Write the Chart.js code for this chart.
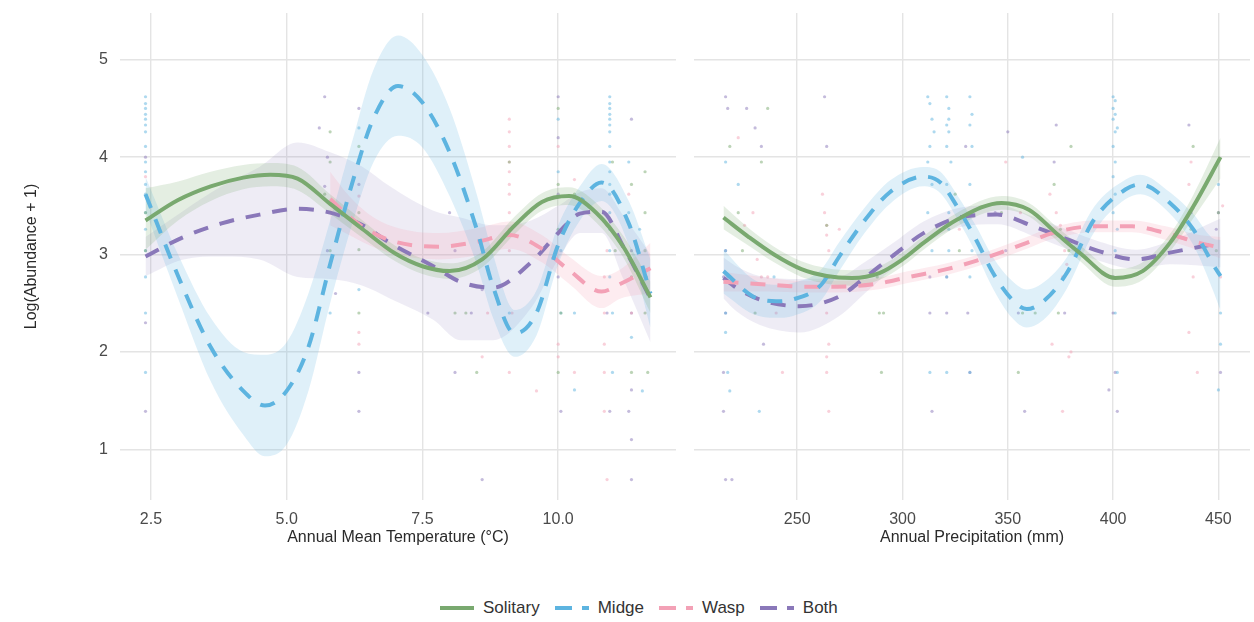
<!DOCTYPE html>
<html>
<head>
<meta charset="utf-8">
<script src="https://cdn.jsdelivr.net/npm/chart.js@4.4.0/dist/chart.umd.min.js"></script>
<style>
  body { margin: 0; background: #fff; width: 1254px; height: 622px; position: relative; overflow: hidden;
         font-family: "Liberation Sans", Arial, sans-serif; }
  #tempChart { position: absolute; left: 0; top: 0; }
  #precChart { position: absolute; left: 680px; top: 0; }
  #legend { position: absolute; left: 440px; top: 598px; display: flex; align-items: center;
            font-size: 17px; color: #333; line-height: 20px; }
  .item { display: flex; align-items: center; margin-right: 15px; }
  .item svg { margin-right: 9px; }
</style>
</head>
<body>
<canvas id="tempChart" width="680" height="560"></canvas>
<canvas id="precChart" width="574" height="560"></canvas>
<div id="legend"></div>
<script>
// ---- axes ----
const yTicks = [1, 2, 3, 4, 5];
const tempTicks = [2.5, 5.0, 7.5, 10.0];
const precTicks = [250, 300, 350, 400, 450];
const seriesNames = ['Solitary', 'Midge', 'Wasp', 'Both'];
const seriesColors = ['#79a96f', '#5db4e0', '#f3a1b6', '#8a78b9'];

// ---- temperature panel: smooth fits and confidence bands ----
const tempSolitaryX   = [2.4, 3.0, 3.6, 4.2, 4.7, 5.2, 5.8, 6.4, 7.0, 7.5, 8.0, 8.6, 9.2, 9.7, 10.2, 10.7, 11.2, 11.7];
const tempSolitaryFit = [3.35, 3.56, 3.70, 3.79, 3.82, 3.78, 3.52, 3.26, 3.01, 2.88, 2.83, 2.95, 3.30, 3.54, 3.60, 3.43, 3.08, 2.56];
const tempSolitaryLo  = [3.05, 3.35, 3.55, 3.67, 3.70, 3.66, 3.42, 3.17, 2.93, 2.80, 2.75, 2.87, 3.21, 3.45, 3.51, 3.33, 2.97, 2.40];
const tempSolitaryHi  = [3.68, 3.75, 3.85, 3.92, 3.94, 3.90, 3.62, 3.35, 3.09, 2.96, 2.91, 3.03, 3.39, 3.63, 3.69, 3.53, 3.19, 2.72];

const tempMidgeX   = [2.4, 3.0, 3.6, 4.2, 4.6, 5.0, 5.4, 5.8, 6.2, 6.6, 7.05, 7.5, 8.0, 8.5, 8.8, 9.2, 9.6, 10.0, 10.4, 10.8, 11.3, 11.7];
const tempMidgeFit = [3.62, 2.78, 2.05, 1.60, 1.45, 1.60, 2.05, 2.90, 3.72, 4.40, 4.73, 4.56, 4.05, 3.26, 2.67, 2.19, 2.40, 3.10, 3.53, 3.74, 3.32, 2.60];
const tempMidgeLo  = [3.45, 2.55, 1.70, 1.15, 0.93, 1.05, 1.60, 2.50, 3.30, 3.95, 4.22, 4.10, 3.60, 2.90, 2.35, 1.95, 2.17, 2.90, 3.35, 3.55, 3.10, 2.25];
const tempMidgeHi  = [3.80, 3.00, 2.35, 2.00, 1.97, 2.10, 2.60, 3.35, 4.15, 4.90, 5.25, 5.05, 4.50, 3.62, 3.00, 2.43, 2.63, 3.30, 3.70, 3.93, 3.55, 2.95];

const tempWaspX   = [5.8, 6.15, 6.5, 7.0, 7.8, 8.5, 9.1, 9.7, 10.2, 10.8, 11.15, 11.7];
const tempWaspFit = [3.57, 3.39, 3.25, 3.13, 3.08, 3.13, 3.20, 3.06, 2.84, 2.62, 2.70, 2.86];
const tempWaspLo  = [3.30, 3.20, 3.10, 3.00, 2.95, 2.99, 3.06, 2.92, 2.70, 2.45, 2.55, 2.60];
const tempWaspHi  = [3.85, 3.60, 3.42, 3.28, 3.22, 3.27, 3.34, 3.20, 2.98, 2.78, 2.85, 3.12];

const tempBothX   = [2.4, 3.1, 3.8, 4.5, 5.2, 5.8, 6.4, 6.9, 7.7, 8.2, 8.8, 9.5, 10.0, 10.4, 10.8, 11.2, 11.7];
const tempBothFit = [2.98, 3.18, 3.32, 3.41, 3.47, 3.43, 3.30, 3.12, 2.88, 2.72, 2.66, 2.92, 3.22, 3.42, 3.44, 3.08, 2.55];
const tempBothLo  = [2.78, 2.95, 2.98, 2.95, 2.77, 2.75, 2.68, 2.55, 2.33, 2.12, 2.12, 2.45, 2.95, 3.22, 3.22, 2.75, 2.10];
const tempBothHi  = [3.18, 3.45, 3.70, 3.90, 4.15, 4.05, 3.90, 3.70, 3.45, 3.38, 3.30, 3.35, 3.50, 3.64, 3.68, 3.40, 3.00];

// ---- precipitation panel: smooth fits and confidence bands ----
const precSolitaryX   = [215, 227, 239, 252, 264, 276, 289, 300, 310, 326, 347, 360, 374, 384, 401, 414, 427, 438, 451];
const precSolitaryFit = [3.38, 3.18, 3.00, 2.85, 2.78, 2.76, 2.81, 2.95, 3.12, 3.36, 3.53, 3.46, 3.20, 3.02, 2.76, 2.83, 3.12, 3.49, 4.00];
const precSolitaryLo  = [3.26, 3.09, 2.92, 2.77, 2.70, 2.68, 2.74, 2.88, 3.05, 3.29, 3.46, 3.39, 3.13, 2.94, 2.67, 2.74, 3.03, 3.37, 3.78];
const precSolitaryHi  = [3.50, 3.27, 3.08, 2.93, 2.86, 2.84, 2.88, 3.02, 3.19, 3.43, 3.60, 3.53, 3.27, 3.10, 2.85, 2.92, 3.21, 3.61, 4.20];

const precMidgeX   = [215, 229, 240, 248, 261, 270, 282, 294, 310, 318, 326, 335, 343, 352, 359, 368, 378, 391, 406, 413, 427, 438, 448, 451];
const precMidgeFit = [2.83, 2.57, 2.52, 2.54, 2.68, 2.98, 3.35, 3.64, 3.80, 3.74, 3.49, 3.15, 2.81, 2.54, 2.44, 2.54, 2.81, 3.36, 3.67, 3.72, 3.53, 3.26, 2.88, 2.78];
const precMidgeLo  = [2.60, 2.39, 2.35, 2.37, 2.52, 2.83, 3.22, 3.52, 3.70, 3.63, 3.37, 3.01, 2.65, 2.35, 2.25, 2.35, 2.65, 3.23, 3.57, 3.62, 3.42, 3.10, 2.60, 2.42];
const precMidgeHi  = [3.05, 2.75, 2.69, 2.71, 2.84, 3.13, 3.48, 3.76, 3.90, 3.85, 3.61, 3.29, 2.97, 2.73, 2.64, 2.73, 2.97, 3.49, 3.77, 3.82, 3.64, 3.42, 3.16, 3.15];

const precWaspX   = [215, 237, 253, 269, 288, 303, 321, 340, 359, 371, 391, 409, 425, 441, 451];
const precWaspFit = [2.72, 2.69, 2.67, 2.67, 2.70, 2.77, 2.85, 2.97, 3.12, 3.22, 3.29, 3.29, 3.22, 3.12, 3.07];
const precWaspLo  = [2.62, 2.62, 2.61, 2.61, 2.64, 2.71, 2.79, 2.91, 3.06, 3.16, 3.23, 3.23, 3.15, 3.04, 2.96];
const precWaspHi  = [2.82, 2.76, 2.73, 2.73, 2.76, 2.83, 2.91, 3.03, 3.18, 3.28, 3.35, 3.35, 3.29, 3.20, 3.18];

const precBothX   = [215, 221, 232, 251, 270, 282, 295, 310, 327, 345, 362, 379, 394, 411, 427, 451];
const precBothFit = [2.76, 2.66, 2.54, 2.47, 2.57, 2.76, 2.98, 3.22, 3.38, 3.41, 3.29, 3.15, 3.03, 2.95, 3.02, 3.12];
const precBothLo  = [2.55, 2.42, 2.28, 2.20, 2.37, 2.60, 2.85, 3.10, 3.28, 3.31, 3.19, 3.05, 2.93, 2.85, 2.90, 2.87];
const precBothHi  = [2.97, 2.88, 2.78, 2.75, 2.77, 2.92, 3.11, 3.34, 3.48, 3.51, 3.39, 3.25, 3.13, 3.05, 3.14, 3.37];

// ---- raw observations (jittered points) ----
const tempSolitaryPts = [[2.4,3.43],[2.4,3.04],[5.8,4.26],[5.8,3.95],[5.7,3.62],[5.8,3.04],[6.33,4.11],[6.33,3.43],[6.33,2.4],[6.33,3.05],
  [8.1,2.4],[8.3,2.4],[8.5,1.79],[10.0,4.5],[10.0,3.72],[10.0,3.26],[10.05,2.4],[10.0,1.79],[11.0,3.95],[11.05,3.04],[11.35,3.72],
  [11.35,2.77],[11.35,1.79],[11.6,3.85],[11.6,3.43],[11.6,3.04],[11.62,2.77],[11.6,2.4],[11.65,1.79],[10.3,3.62],[9.1,3.95],[5.9,3.5]];
const tempMidgePts = [[2.4,4.62],[2.4,4.55],[2.4,4.5],[2.4,4.44],[2.4,4.39],[2.4,4.33],[2.4,4.26],[2.4,4.11],[2.4,3.95],[2.4,3.85],
  [2.4,3.72],[2.4,3.62],[2.4,3.43],[2.4,3.26],[2.4,3.04],[2.4,2.77],[2.4,2.4],[2.4,1.79],[5.8,2.4],[6.33,2.64],[6.33,4.3],[10.0,4.39],
  [10.0,3.85],[10.05,3.04],[10.05,2.4],[10.3,2.4],[10.3,1.61],[10.95,4.62],[10.95,4.55],[10.95,4.5],[10.95,4.44],[10.95,4.39],[10.95,4.33],
  [10.95,4.26],[10.95,4.11],[10.95,3.95],[10.95,3.85],[10.95,3.72],[10.95,3.62],[10.95,3.43],[10.95,3.26],[10.95,3.04],[10.95,2.77],
  [11.0,2.4],[11.0,1.79],[11.3,3.95],[11.3,3.43],[11.35,2.15],[11.5,3.26],[11.55,1.6],[9.1,2.4]];
const tempWaspPts = [[2.4,3.8],[6.33,3.6],[6.33,2.08],[6.33,2.2],[9.1,4.39],[9.1,4.26],[9.1,4.11],[9.1,3.95],[9.1,3.85],[9.1,3.72],
  [9.1,3.62],[9.1,3.43],[9.1,3.26],[9.1,3.04],[9.15,2.4],[9.1,1.79],[8.6,1.95],[8.7,2.4],[10.0,4.11],[10.0,2.08],[10.0,1.95],[10.3,3.77],
  [10.3,1.79],[10.9,3.3],[10.9,3.04],[10.85,2.77],[10.85,2.4],[10.85,2.08],[10.85,1.79],[10.85,1.39],[10.9,0.69],[11.3,3.62],[11.35,2.4],
  [11.45,3.04],[11.6,2.77],[9.6,1.6]];
const tempBothPts = [[2.4,2.3],[2.4,1.39],[2.4,4.0],[5.7,4.62],[5.6,4.3],[5.75,4.0],[5.7,3.7],[5.75,3.04],[5.9,2.6],[6.33,4.5],[6.33,3.72],
  [6.33,1.79],[6.33,1.39],[8.0,3.43],[8.1,3.04],[7.6,2.4],[8.1,1.79],[8.4,2.4],[8.6,2.64],[8.6,0.69],[10.0,4.62],[10.0,4.2],[10.0,3.62],
  [10.0,2.77],[10.05,1.39],[10.9,2.4],[10.95,1.39],[11.35,4.39],[11.35,3.04],[11.35,2.4],[11.35,1.61],[11.35,1.1],[11.35,0.69],[11.3,1.39]];

const precSolitaryPts = [[218,4.11],[222,3.43],[224,3.04],[230,2.4],[233,3.95],[236,4.5],[264,3.3],[265,2.77],[288,2.77],[289,2.4],
  [290,1.79],[291,2.4],[325,3.62],[327,3.04],[347,3.43],[355,1.79],[357,2.4],[363,2.4],[374,2.4],[375,3.26],[379,3.04],[372,3.72],
  [380,4.11],[438,4.11],[437,3.26],[450,3.43],[449,3.04]];
const precMidgePts = [[216,3.95],[216,3.04],[217,2.77],[216,2.4],[216,2.2],[217,1.79],[218,1.6],[222,3.72],[232,1.39],[239,2.77],
  [312,4.62],[313,4.55],[314,4.39],[315,4.26],[313,4.11],[312,3.95],[314,3.72],[312,3.43],[314,3.04],[313,1.79],[321,4.62],[322,4.5],
  [322,4.39],[321,4.33],[322,4.26],[321,4.11],[323,3.95],[321,3.72],[322,3.43],[322,3.26],[322,3.04],[321,2.77],[321,1.79],[332,4.62],
  [333,4.44],[332,4.33],[333,4.11],[332,3.72],[333,3.43],[333,3.04],[332,2.77],[332,1.79],[357,4.0],[400,4.62],[401,4.58],[400,4.5],
  [401,4.44],[400,4.39],[402,4.3],[401,4.26],[400,4.11],[401,3.95],[400,3.8],[401,3.62],[400,3.43],[402,3.26],[401,3.04],[401,2.4],
  [402,1.79],[450,3.72],[451,2.4],[450,1.61],[451,2.08]];
const precWaspPts = [[222,4.2],[225,3.3],[229,3.43],[231,2.95],[233,2.77],[236,2.77],[240,2.4],[243,1.79],[262,3.62],[263,3.43],
  [264,3.3],[264,3.2],[265,3.04],[263,2.77],[264,2.4],[265,2.08],[264,1.95],[264,1.79],[265,1.39],[270,3.26],[327,3.26],[349,3.95],
  [356,3.43],[370,3.62],[373,3.43],[375,3.3],[377,3.04],[376,2.77],[371,2.08],[379,1.95],[376,1.39],[380,2.0],[378,2.9],[437,3.95],
  [436,3.72],[438,2.77],[436,2.2],[440,1.79],[452,3.5],[451,2.77]];
const precBothPts = [[216,4.62],[217,4.5],[216,3.04],[215,2.77],[216,2.4],[215,1.79],[215,1.39],[216,0.69],[219,0.69],[226,4.5],
  [230,4.3],[233,4.11],[234,2.08],[263,4.62],[264,4.11],[265,2.77],[313,2.77],[313,2.4],[314,1.39],[321,2.77],[321,2.4],[331,2.4],
  [332,1.79],[330,4.11],[344,3.43],[350,4.26],[349,3.04],[355,2.4],[358,1.39],[373,4.33],[372,3.95],[377,2.4],[400,2.77],[400,2.4],
  [401,1.79],[402,1.39],[398,1.61],[436,4.33],[437,3.43],[450,3.43],[451,1.79],[449,3.26]];

const FONT = '"Liberation Sans", Arial, sans-serif';
const DASHED = [15, 12];

function rgba(hex, a) {
  const n = parseInt(hex.slice(1), 16);
  return `rgba(${n >> 16}, ${(n >> 8) & 255}, ${n & 255}, ${a})`;
}

function toPoints(xs, ys) {
  return xs.map((x, i) => ({ x: x, y: ys[i] }));
}

// one series -> points, band (upper + lower filled to upper), fitted line
function seriesDatasets(idx, xs, fit, lo, hi, pts) {
  const color = seriesColors[idx];
  const bandAlpha = [0.2, 0.2, 0.2, 0.14][idx];
  return [
    {
      type: 'scatter', data: pts.map(p => ({ x: p[0], y: p[1] })),
      backgroundColor: rgba(color, 0.5), borderWidth: 0, pointRadius: 1.6, order: 3
    },
    {
      type: 'line', data: toPoints(xs, hi), borderWidth: 0, borderColor: 'transparent',
      pointRadius: 0, fill: false, cubicInterpolationMode: 'monotone', order: 2
    },
    {
      type: 'line', data: toPoints(xs, lo), borderWidth: 0, borderColor: 'transparent',
      pointRadius: 0, fill: '-1', backgroundColor: rgba(color, bandAlpha),
      cubicInterpolationMode: 'monotone', order: 2
    },
    {
      type: 'line', label: seriesNames[idx], data: toPoints(xs, fit), borderColor: color,
      borderWidth: 4, borderDash: idx === 0 ? [] : DASHED, borderCapStyle: 'butt',
      pointRadius: 0, fill: false, cubicInterpolationMode: 'monotone', order: 0
    }
  ];
}

function makePanel(canvasId, datasets, xMin, xMax, xTicks, xTitle, xFmt, showY) {
  const grid = { color: '#e4e4e4', lineWidth: 1.4, drawTicks: false };
  return new Chart(document.getElementById(canvasId), {
    type: 'line',
    data: { datasets: datasets },
    options: {
      responsive: false,
      animation: false,
      events: [],
      layout: { padding: { top: 13, right: 4, left: 0, bottom: 0 } },
      plugins: { legend: { display: false }, tooltip: { enabled: false } },
      scales: {
        x: {
          type: 'linear', min: xMin, max: xMax,
          grid: grid, border: { display: false },
          afterBuildTicks: s => { s.ticks = xTicks.map(v => ({ value: v })); },
          afterFit: s => { s.height = 60; s.paddingLeft = 0; s.paddingRight = 0; },
          ticks: { padding: 10, color: '#4a4a4a', font: { family: FONT, size: 16 }, callback: xFmt },
          title: { display: true, text: xTitle, color: '#2a2a2a', font: { family: FONT, size: 16 },
                   padding: { top: 0, bottom: 13 } }
        },
        y: {
          type: 'linear', min: 0.48, max: 5.48,
          grid: grid, border: { display: false },
          afterBuildTicks: s => { s.ticks = yTicks.map(v => ({ value: v })); },
          afterFit: s => { s.width = showY ? 120 : 14; s.paddingTop = 0; s.paddingBottom = 0; },
          ticks: { display: showY, padding: 12, color: '#4a4a4a', font: { family: FONT, size: 16 } },
          title: { display: showY, text: 'Log(Abundance + 1)', color: '#2a2a2a',
                   font: { family: FONT, size: 16 }, padding: { top: 22, bottom: 0 } }
        }
      }
    }
  });
}

const tempSets = [].concat(
  seriesDatasets(0, tempSolitaryX, tempSolitaryFit, tempSolitaryLo, tempSolitaryHi, tempSolitaryPts),
  seriesDatasets(1, tempMidgeX, tempMidgeFit, tempMidgeLo, tempMidgeHi, tempMidgePts),
  seriesDatasets(2, tempWaspX, tempWaspFit, tempWaspLo, tempWaspHi, tempWaspPts),
  seriesDatasets(3, tempBothX, tempBothFit, tempBothLo, tempBothHi, tempBothPts)
);
const precSets = [].concat(
  seriesDatasets(0, precSolitaryX, precSolitaryFit, precSolitaryLo, precSolitaryHi, precSolitaryPts),
  seriesDatasets(1, precMidgeX, precMidgeFit, precMidgeLo, precMidgeHi, precMidgePts),
  seriesDatasets(2, precWaspX, precWaspFit, precWaspLo, precWaspHi, precWaspPts),
  seriesDatasets(3, precBothX, precBothFit, precBothLo, precBothHi, precBothPts)
);

makePanel('tempChart', tempSets, 1.93, 12.17, tempTicks, 'Annual Mean Temperature (°C)', v => v.toFixed(1), true);
makePanel('precChart', precSets, 201, 465, precTicks, 'Annual Precipitation (mm)', v => String(v), false);

// Legend below both panels
const legend = document.getElementById('legend');
seriesNames.forEach((name, i) => {
  const dash = i === 0 ? '' : ' stroke-dasharray="17 10"';
  const item = document.createElement('div');
  item.className = 'item';
  item.innerHTML = `<svg width="34" height="8"><line x1="0" y1="4" x2="34" y2="4" stroke="${seriesColors[i]}" stroke-width="4"${dash}/></svg><span>${name}</span>`;
  legend.appendChild(item);
});
</script>
</body>
</html>
